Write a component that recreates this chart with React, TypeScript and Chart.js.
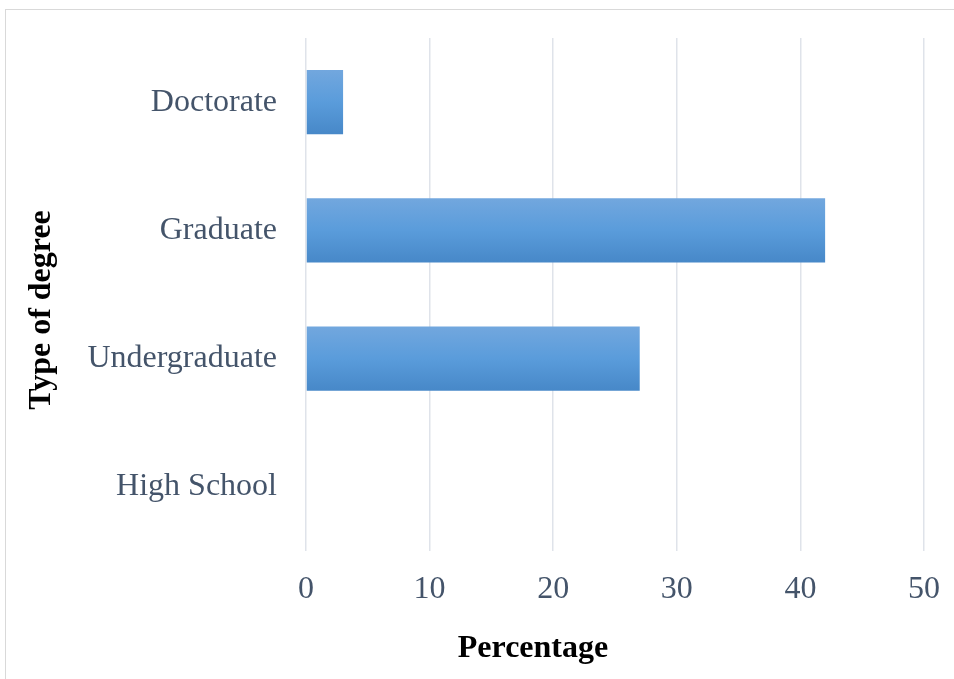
import React, { useEffect, useRef } from 'react';
import { Chart, registerables } from 'chart.js';

Chart.register(...registerables);

const categories = ['Doctorate', 'Graduate', 'Undergraduate', 'High School'];
const percentages = [3, 42, 27, 0];
const xMin = 0;
const xMax = 50;
const xStep = 10;
const xTitle = 'Percentage';
const yTitle = 'Type of degree';

const SERIF = '"Liberation Serif", "Times New Roman", Times, serif';

const axisTitlePlugin = {
  id: 'axisTitles',
  afterDraw(chart: any) {
    const c = chart.ctx;
    c.save();
    c.fillStyle = '#000000';
    c.font = `bold 32px ${SERIF}`;
    c.textAlign = 'center';
    c.textBaseline = 'middle';
    c.fillText(xTitle, 533, 649);
    c.translate(42, 310);
    c.rotate(-Math.PI / 2);
    c.fillText(yTitle, 0, 0);
    c.restore();
  },
};

export default function App() {
  const canvasRef = useRef<HTMLCanvasElement | null>(null);

  useEffect(() => {
    if (!canvasRef.current) return;
    const chart = new Chart(canvasRef.current, {
      type: 'bar',
      data: {
        labels: categories,
        datasets: [
          {
            data: percentages,
            barPercentage: 0.5,
            categoryPercentage: 1,
            borderWidth: 0,
            backgroundColor: (ctx: any) => {
              const ch = ctx.chart;
              const ys = ch.scales && ch.scales.y;
              if (!ys || ctx.dataIndex === undefined || ctx.type !== 'data') return '#5b9bd5';
              const c = ys.getPixelForValue(ctx.dataIndex);
              const step = Math.abs(ys.getPixelForValue(1) - ys.getPixelForValue(0));
              const half = step * 0.25;
              if (!isFinite(c) || !isFinite(half) || half <= 0) return '#5b9bd5';
              const g = ch.ctx.createLinearGradient(0, c - half, 0, c + half);
              g.addColorStop(0, '#72a7de');
              g.addColorStop(0.5, '#5a9cdb');
              g.addColorStop(1, '#4788c8');
              return g;
            },
          },
        ],
      },
      options: {
        indexAxis: 'y',
        responsive: false,
        animation: false,
        layout: { padding: { top: 38, right: 30, left: 0, bottom: 0 } },
        plugins: {
          legend: { display: false },
          tooltip: { enabled: false },
        },
        scales: {
          x: {
            min: xMin,
            max: xMax,
            ticks: {
              stepSize: xStep,
              color: '#44546a',
              font: { family: SERIF, size: 32 },
              padding: 19,
              maxRotation: 0,
            },
            grid: { color: '#dfe3ea', lineWidth: 1.5, drawTicks: false },
            border: { display: false },
            title: { display: false, text: xTitle },
            afterFit: (scale: any) => {
              scale.height = 128;
              scale.paddingLeft = 0;
              scale.paddingRight = 0;
            },
          },
          y: {
            ticks: {
              color: '#44546a',
              font: { family: SERIF, size: 32 },
              padding: 29,
            },
            grid: { display: false, drawTicks: false },
            border: { display: false },
            title: { display: false, text: yTitle },
            afterFit: (scale: any) => {
              scale.width = 306;
              scale.paddingTop = 0;
              scale.paddingBottom = 0;
            },
          },
        },
      },
      plugins: [axisTitlePlugin],
    } as any);
    return () => chart.destroy();
  }, []);

  return (
    <div style={{ position: 'fixed', left: 0, top: 0, width: 954, height: 679, background: '#ffffff', overflow: 'hidden' }}>
      <div
        style={{
          position: 'absolute',
          left: 5,
          top: 9,
          width: 1000,
          height: 1000,
          border: '1px solid #d9d9d9',
          boxSizing: 'border-box',
          pointerEvents: 'none',
        }}
      />
      <canvas ref={canvasRef} width={954} height={679} style={{ position: 'absolute', left: 0, top: 0, width: 954, height: 679 }} />
    </div>
  );
}
